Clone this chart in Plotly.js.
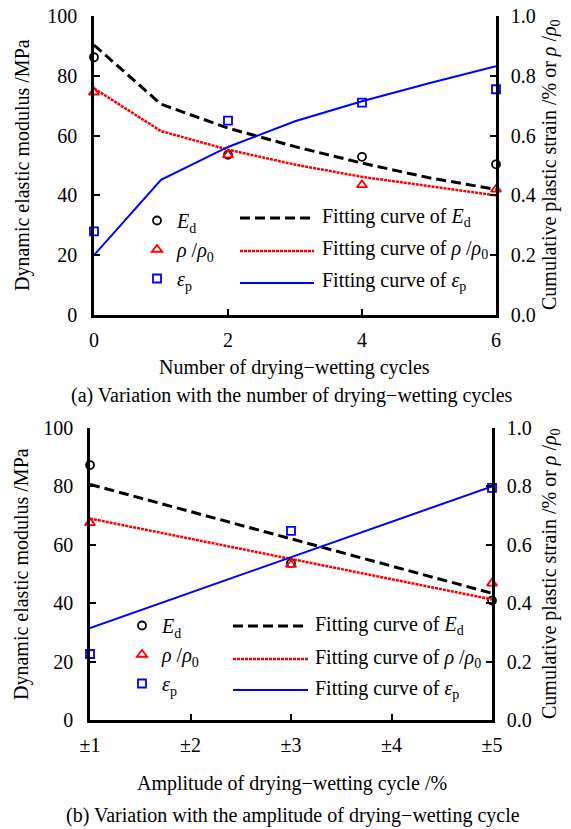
<!DOCTYPE html>
<html>
<head>
<meta charset="utf-8">
<script src="https://cdn.plot.ly/plotly-3.0.1.min.js"></script>
<style>html,body{margin:0;padding:0;background:#fff;}#chart{width:571px;height:829px;}</style>
</head>
<body>
<div id="chart"></div>
<script>
// ---- Data: (a) number of drying-wetting cycles ----
const cyclesX = [0, 2, 4, 6];
const EdA = [86.2, 53.6, 52.9, 50.4];
const rhoA = [0.745, 0.535, 0.435, 0.42];
const epsA = [0.28, 0.65, 0.71, 0.755];
const fitXA = [0, 1, 2, 3, 4, 5, 6];
const EdFitA = [90.3, 70.5, 62.5, 56.3, 50.8, 45.9, 42.0];
const rhoFitA = [0.758, 0.615, 0.553, 0.503, 0.462, 0.43, 0.40];
const epsFitA = [0.20, 0.452, 0.562, 0.648, 0.715, 0.775, 0.832];
const cycleTicks = [0, 2, 4, 6];

// ---- Data: (b) amplitude of drying-wetting cycle ----
const ampX = [1, 3, 5];
const EdB = [87.3, 53.7, 40.9];
const rhoB = [0.675, 0.532, 0.468];
const epsB = [0.226, 0.648, 0.795];
const fitXB = [1, 5];
const EdFitB = [80.7, 43.4];
const rhoFitB = [0.69, 0.413];
const epsFitB = [0.315, 0.80];
const ampTicks = [1, 2, 3, 4, 5];
const ampTickText = ['±1', '±2', '±3', '±4', '±5'];

// ---- Labels ----
const nameEd = '<i>E</i><sub>d</sub>';
const nameRho = '<i>ρ</i> /<i>ρ</i><sub>0</sub>';
const nameEps = '<i>ε</i><sub>p</sub>';
const fitPrefix = 'Fitting curve of ';

const FONT = 'Liberation Serif, Times New Roman, serif';
const FS = 20;
const W = 571, H = 829;
const px = v => v / W;
const py = v => 1 - v / H;

const black = '#000000', red = '#ff0000', blue = '#0000ff';
const EdDash = '10px,5px', rhoDash = '3px,1px';

function markerTrace(x, y, xa, ya, sym, color, name, legend, group) {
  return {x: x, y: y, xaxis: xa, yaxis: ya, type: 'scatter', mode: 'markers', cliponaxis: false,
    name: name, legend: legend, legendgroup: group,
    marker: {symbol: sym, size: sym === 'triangle-up-open' ? 9 : 8, color: color, line: {color: color, width: 1.8}}};
}
function lineTrace(x, y, xa, ya, color, dash, width) {
  return {x: x, y: y, xaxis: xa, yaxis: ya, type: 'scatter', mode: 'lines', cliponaxis: false,
    showlegend: false, hoverinfo: 'skip', line: {color: color, dash: dash, width: width}};
}

const traces = [
  lineTrace(fitXA, EdFitA, 'x', 'y', black, EdDash, 3),
  lineTrace(fitXA, rhoFitA, 'x', 'y2', red, rhoDash, 2.5),
  lineTrace(fitXA, epsFitA, 'x', 'y2', blue, 'solid', 2),
  markerTrace(cyclesX, EdA, 'x', 'y', 'circle-open', black, nameEd, 'legend', 'a1'),
  markerTrace(cyclesX, rhoA, 'x', 'y2', 'triangle-up-open', red, nameRho, 'legend', 'a2'),
  markerTrace(cyclesX, epsA, 'x', 'y2', 'square-open', blue, nameEps, 'legend', 'a3'),
  lineTrace(fitXB, EdFitB, 'x2', 'y3', black, EdDash, 3),
  lineTrace(fitXB, rhoFitB, 'x2', 'y4', red, rhoDash, 2.5),
  lineTrace(fitXB, epsFitB, 'x2', 'y4', blue, 'solid', 2),
  markerTrace(ampX, EdB, 'x2', 'y3', 'circle-open', black, nameEd, 'legend2', 'b1'),
  markerTrace(ampX, rhoB, 'x2', 'y4', 'triangle-up-open', red, nameRho, 'legend2', 'b2'),
  markerTrace(ampX, epsB, 'x2', 'y4', 'square-open', blue, nameEps, 'legend2', 'b3')
];

const axBase = {showgrid: false, zeroline: false, showline: true, linecolor: black, linewidth: 2.5,
  ticks: 'inside', ticklen: 6, tickwidth: 2, tickcolor: black, automargin: false,
  tickfont: {family: FONT, size: FS, color: black}, fixedrange: true};

const layout = {
  width: W, height: H, margin: {l: 0, r: 0, t: 0, b: 0}, autosize: false,
  paper_bgcolor: '#fff', plot_bgcolor: 'rgba(0,0,0,0)', showlegend: true,
  font: {family: FONT, size: FS, color: black},
  xaxis: Object.assign({}, axBase, {domain: [px(94), px(496)], anchor: 'y', range: [0, 6], tickvals: cycleTicks, ticklabelstandoff: 5}),
  yaxis: Object.assign({}, axBase, {domain: [py(315), py(16)], anchor: 'x', range: [0, 100], dtick: 20, tick0: 0, ticklabelstandoff: 10}),
  yaxis2: Object.assign({}, axBase, {overlaying: 'y', side: 'right', anchor: 'x', range: [0, 1], dtick: 0.2, tick0: 0, tickformat: '.1f', ticklabelstandoff: 8}),
  xaxis2: Object.assign({}, axBase, {domain: [px(90), px(492)], anchor: 'y3', range: [1, 5], tickvals: ampTicks, ticktext: ampTickText, ticklabelstandoff: 5}),
  yaxis3: Object.assign({}, axBase, {domain: [py(720), py(428)], anchor: 'x2', range: [0, 100], dtick: 20, tick0: 0, ticklabelstandoff: 10}),
  yaxis4: Object.assign({}, axBase, {overlaying: 'y3', side: 'right', anchor: 'x2', range: [0, 1], dtick: 0.2, tick0: 0, tickformat: '.1f', ticklabelstandoff: 8}),
  legend: {x: px(137), y: py(201), xanchor: 'left', yanchor: 'top', bgcolor: 'rgba(0,0,0,0)', borderwidth: 0,
    traceorder: 'grouped', tracegroupgap: 0, font: {family: FONT, size: FS, color: black}, itemclick: false, itemdoubleclick: false},
  legend2: {x: px(122), y: py(606), xanchor: 'left', yanchor: 'top', bgcolor: 'rgba(0,0,0,0)', borderwidth: 0,
    traceorder: 'grouped', tracegroupgap: 0, font: {family: FONT, size: FS, color: black}, itemclick: false, itemdoubleclick: false},
  shapes: [],
  annotations: []
};

// manual legend entries for the fitted curves
function fitLegend(x0, x1, tx, ys) {
  const defs = [[black, EdDash, 3, nameEd], [red, rhoDash, 2.5, nameRho], [blue, 'solid', 2, nameEps]];
  defs.forEach((d, i) => {
    layout.shapes.push({type: 'line', xref: 'paper', yref: 'paper', x0: px(x0), x1: px(x1), y0: py(ys[i]), y1: py(ys[i]),
      line: {color: d[0], dash: d[1], width: d[2]}});
    layout.annotations.push({xref: 'paper', yref: 'paper', x: px(tx), y: py(ys[i] - 1), xanchor: 'left', yanchor: 'middle',
      showarrow: false, text: fitPrefix + d[3], font: {family: FONT, size: FS, color: black}});
  });
}
fitLegend(240, 314, 320, [218, 251, 283]);
fitLegend(233, 308, 313, [626, 659, 690]);

function ann(text, x, y, angle) {
  layout.annotations.push({xref: 'paper', yref: 'paper', x: px(x), y: py(y), xanchor: 'center', yanchor: 'middle',
    showarrow: false, text: text, textangle: angle || 0, font: {family: FONT, size: FS, color: black}});
}
ann('Dynamic elastic modulus /MPa', 22, 165, -90);
ann('Cumulative plastic strain /% or ' + nameRho, 550, 165, -90);
ann('Number of drying−wetting cycles', 294, 368);
ann('(a) Variation with the number of drying−wetting cycles', 292, 396);
ann('Dynamic elastic modulus /MPa', 21, 574, -90);
ann('Cumulative plastic strain /% or ' + nameRho, 550, 574, -90);
ann('Amplitude of drying−wetting cycle /%', 292, 783);
ann('(b) Variation with the amplitude of drying−wetting cycle', 293, 815);

Plotly.newPlot('chart', traces, layout, {displayModeBar: false});
</script>
</body>
</html>
